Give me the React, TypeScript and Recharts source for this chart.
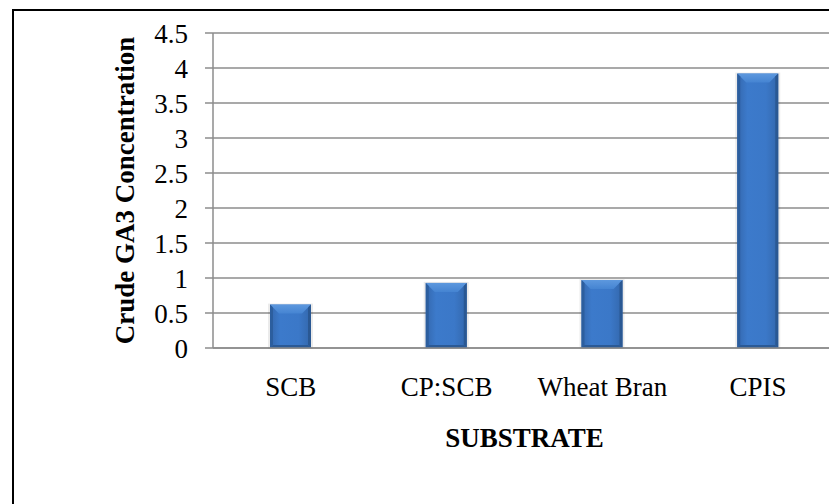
import { BarChart, Bar, XAxis, YAxis, CartesianGrid } from "recharts";

const SUBSTRATES = ["SCB", "CP:SCB", "Wheat Bran", "CPIS"];
const CRUDE_GA3 = [0.62, 0.93, 0.97, 3.92];
const Y_TICKS = [0, 0.5, 1, 1.5, 2, 2.5, 3, 3.5, 4, 4.5];

const data = SUBSTRATES.map((name, i) => ({ name, value: CRUDE_GA3[i] }));

const GRID = "#8c8c8c";
const FONT = "'Liberation Serif', 'Times New Roman', serif";
const FS = 27;

function BevelBar(props: any) {
  const { x, y, width, height } = props;
  if (!height || height <= 0) return null;
  const b = Math.min(9, height / 2);
  const s = 3;
  return (
    <g>
      <rect x={x - 2} y={y - 1} width={width + 4} height={height + 2} fill="rgba(0,0,0,0.08)" />
      <rect x={x} y={y} width={width} height={height} fill="url(#barBody)" />
      <polygon
        points={`${x},${y} ${x + width},${y} ${x + width - b},${y + b} ${x + b},${y + b}`}
        fill="url(#barTop)"
      />
      <polygon
        points={`${x},${y} ${x + s},${y + s} ${x + s},${y + height - s} ${x},${y + height}`}
        fill="#2c5e9e"
      />
      <polygon
        points={`${x + width},${y} ${x + width - s},${y + s} ${x + width - s},${y + height - s} ${x + width},${y + height}`}
        fill="#2a5893"
      />
      <polygon
        points={`${x},${y + height} ${x + s},${y + height - s} ${x + width - s},${y + height - s} ${x + width},${y + height}`}
        fill="#2b5a96"
      />
    </g>
  );
}

function YTitle(props: any) {
  const { viewBox } = props;
  const cx = viewBox.x + 125;
  const cy = viewBox.y + viewBox.height / 2;
  return (
    <text
      x={cx}
      y={cy}
      transform={`rotate(-90 ${cx} ${cy})`}
      textAnchor="middle"
      dominantBaseline="central"
      fontFamily={FONT}
      fontWeight="bold"
      fontSize={FS}
      fill="#000"
    >
      Crude GA3 Concentration
    </text>
  );
}

function XTitle(props: any) {
  const { viewBox } = props;
  const cx = viewBox.x + viewBox.width / 2;
  return (
    <text
      x={cx}
      y={447}
      textAnchor="middle"
      fontFamily={FONT}
      fontWeight="bold"
      fontSize={FS}
      fill="#000"
    >
      SUBSTRATE
    </text>
  );
}

export default function App() {
  return (
    <div
      style={{
        position: "absolute",
        left: 0,
        top: 0,
        width: 829,
        height: 504,
        overflow: "hidden",
        background: "#fff",
      }}
    >
      <div
        style={{
          position: "absolute",
          left: 12,
          top: 9,
          width: 840,
          height: 520,
          border: "2px solid #000",
        }}
      />
      <div style={{ position: "absolute", left: 0, top: 0 }}>
        <BarChart
          width={840}
          height={504}
          data={data}
          margin={{ top: 33, right: 4, left: 0, bottom: 0 }}
          barCategoryGap="0%"
        >
          <defs>
            <linearGradient id="barBody" x1="0" y1="0" x2="1" y2="0">
              <stop offset="0%" stopColor="#3468ae" />
              <stop offset="25%" stopColor="#3c7acb" />
              <stop offset="70%" stopColor="#3b78c8" />
              <stop offset="100%" stopColor="#3367ac" />
            </linearGradient>
            <linearGradient id="barTop" x1="0" y1="0" x2="0" y2="1">
              <stop offset="0%" stopColor="#5d98de" />
              <stop offset="100%" stopColor="#4584d2" />
            </linearGradient>
          </defs>
          <CartesianGrid stroke={GRID} strokeWidth={1.5} vertical={false} />
          <XAxis
            dataKey="name"
            height={156}
            axisLine={{ stroke: GRID, strokeWidth: 1.5 }}
            tickLine={false}
            tickSize={0}
            tickMargin={29}
            tick={{ fontFamily: FONT, fontSize: FS, fill: "#000" }}
            interval={0}
            label={<XTitle />}
          />
          <YAxis
            width={213}
            domain={[0, 4.5]}
            ticks={Y_TICKS}
            interval={0}
            axisLine={{ stroke: GRID, strokeWidth: 1.5 }}
            tickLine={{ stroke: GRID, strokeWidth: 1.5 }}
            tickSize={8}
            tickMargin={17}
            tick={{ fontFamily: FONT, fontSize: FS, fill: "#000" }}
            label={<YTitle />}
          />
          <Bar dataKey="value" barSize={41} shape={<BevelBar />} isAnimationActive={false} />
        </BarChart>
      </div>
    </div>
  );
}
